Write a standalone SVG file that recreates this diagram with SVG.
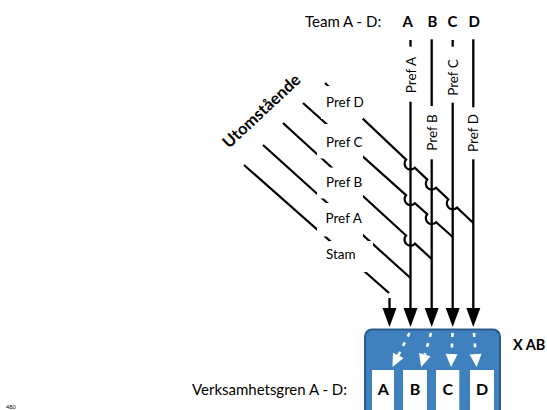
<svg xmlns="http://www.w3.org/2000/svg" width="547" height="410" viewBox="0 0 547 410">
<style>
  .t { font-family: Lato, "Open Sans", sans-serif; fill: #000; }
  .b { font-weight: bold; }
  .ln { fill: none; stroke: #000; stroke-width: 2.2; }
  .vl { fill: none; stroke: #000; stroke-width: 2.3; }
  .wd { fill: none; stroke: #fff; stroke-width: 2.6; stroke-dasharray: 4 6.5; }
  .mask { fill: #fff; }
  .wb { fill: #fff; }
</style>
<defs>
  <marker id="ah" markerUnits="userSpaceOnUse" markerWidth="19" markerHeight="14" refX="4" refY="7" orient="auto" overflow="visible">
    <path d="M0,0 L19,7 L0,14 z" fill="#000"/>
  </marker>
  <marker id="wah" markerUnits="userSpaceOnUse" markerWidth="13" markerHeight="12" refX="0" refY="6" orient="auto" overflow="visible">
    <path d="M0,0 L13,6 L0,12 z" fill="#fff"/>
  </marker>
</defs>
<rect width="547" height="410" fill="#fff"/>

<g id="team-header">
  <text class="t" x="305" y="26.5" font-size="15">Team A - D:</text>
  <text class="t b" x="407.7" y="26.5" font-size="15" text-anchor="middle">A</text>
  <text class="t b" x="432.5" y="26.5" font-size="15" text-anchor="middle">B</text>
  <text class="t b" x="452.5" y="26.5" font-size="15" text-anchor="middle">C</text>
  <text class="t b" x="474.2" y="26.5" font-size="15" text-anchor="middle">D</text>
</g>

<g id="utomstaende">
  <text class="t b" transform="translate(229,149) rotate(-43)" font-size="16.5">Utomstående</text>
</g>

<g id="connectors">
  <!-- diagonal lanes -->
  <path class="ln" d="M244,165 L389,293"/>
  <path class="ln" d="M263,145 L410.5,278"/>
  <path class="ln" d="M283,123 L406.07,235.55 A6,6 0 0 0 414.93,243.65 L431.7,259"/>
  <path class="ln" d="M303,103 L406.03,195.2 A6,6 0 0 0 414.97,203.2 L427.23,214.2 A6,6 0 0 0 436.17,222.2 L452.7,237"/>
  <path class="ln" d="M325,83 L406.14,159.58 A6,6 0 0 0 414.86,167.82 L427.34,179.58 A6,6 0 0 0 436.06,187.82 L448.34,199.38 A6,6 0 0 0 457.06,207.62 L473.3,223"/>
  <!-- vertical team lines -->
  <path class="vl" d="M410.5,40 V46.7"/>
  <path class="vl" d="M410.5,101.7 V312" marker-end="url(#ah)"/>
  <path class="vl" d="M431.7,39.3 V106"/>
  <path class="vl" d="M431.7,159.3 V312" marker-end="url(#ah)"/>
  <path class="vl" d="M452.7,40 V46.7"/>
  <path class="vl" d="M452.7,102.7 V312" marker-end="url(#ah)"/>
  <path class="vl" d="M473.3,39.3 V107.3"/>
  <path class="vl" d="M473.3,159.3 V312" marker-end="url(#ah)"/>
  <path class="vl" d="M389.5,298 V312" marker-end="url(#ah)"/>
</g>

<g id="label-pref-d">
  <rect class="mask" x="321" y="86" width="42" height="33"/>
  <text class="t" x="326" y="107.3" font-size="13.5">Pref D</text>
</g>
<g id="label-pref-c">
  <rect class="mask" x="317" y="124" width="46" height="34.5"/>
  <text class="t" x="326" y="146.7" font-size="13.5">Pref C</text>
</g>
<g id="label-pref-b">
  <rect class="mask" x="317" y="167.5" width="46" height="31"/>
  <text class="t" x="326" y="186.7" font-size="13.5">Pref B</text>
</g>
<g id="label-pref-a">
  <rect class="mask" x="317" y="203" width="46" height="33.5"/>
  <text class="t" x="325.5" y="222.7" font-size="13.5">Pref A</text>
</g>
<g id="label-stam">
  <rect class="mask" x="329" y="241" width="44" height="31"/>
  <text class="t" x="326" y="259.3" font-size="13.5">Stam</text>
</g>

<g id="vlabel-pref-a"><text class="t" transform="translate(415.5,75) rotate(-90)" font-size="13.5" text-anchor="middle">Pref A</text></g>
<g id="vlabel-pref-b"><text class="t" transform="translate(436.7,132.5) rotate(-90)" font-size="13.5" text-anchor="middle">Pref B</text></g>
<g id="vlabel-pref-c"><text class="t" transform="translate(457.7,77.5) rotate(-90)" font-size="13.5" text-anchor="middle">Pref C</text></g>
<g id="vlabel-pref-d"><text class="t" transform="translate(478.3,133) rotate(-90)" font-size="13.5" text-anchor="middle">Pref D</text></g>

<g id="x-ab">
  <rect x="365" y="329.5" width="135" height="100" rx="7" fill="#3f80bf" stroke="#2b5c88" stroke-width="2"/>
  <path class="wd" d="M409.5,333 L398.3,355.4" marker-end="url(#wah)"/>
  <path class="wd" d="M431,333 L424.8,354.6" marker-end="url(#wah)"/>
  <path class="wd" d="M452.5,333 L451.6,354" marker-end="url(#wah)"/>
  <path class="wd" d="M474,333 L475.6,354.1" marker-end="url(#wah)"/>
  <text class="t b" x="513" y="350" font-size="14.5">X AB</text>
</g>

<g id="vg-a"><rect class="wb" x="372" y="370" width="22" height="45"/><text class="t b" x="383.3" y="395" font-size="16" text-anchor="middle">A</text></g>
<g id="vg-b"><rect class="wb" x="403" y="370" width="24" height="45"/><text class="t b" x="415" y="395" font-size="16" text-anchor="middle">B</text></g>
<g id="vg-c"><rect class="wb" x="436" y="370" width="23.3" height="45"/><text class="t b" x="447.7" y="395" font-size="16" text-anchor="middle">C</text></g>
<g id="vg-d"><rect class="wb" x="470" y="370" width="24" height="45"/><text class="t b" x="482" y="395" font-size="16" text-anchor="middle">D</text></g>

<g id="verksamhetsgren">
  <text class="t" x="347" y="395" font-size="15" text-anchor="end">Verksamhetsgren A - D:</text>
</g>
<g id="page-number">
  <text class="t" x="6" y="409" font-size="5.5" fill="#666">480</text>
</g>
</svg>
